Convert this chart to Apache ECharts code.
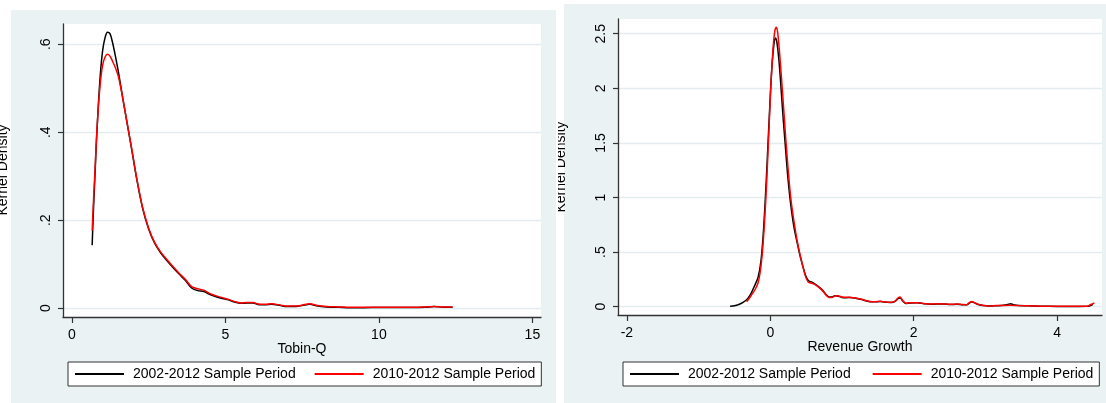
<!DOCTYPE html>
<html>
<head>
<meta charset="utf-8">
<script src="https://cdn.jsdelivr.net/npm/echarts@6/dist/echarts.min.js"></script>
<style>
  html, body { margin: 0; padding: 0; background: #fff; }
  #wrap { position: relative; width: 1106px; height: 403px; overflow: hidden; }
  .panel { position: absolute; background: #eaf2f3; }
  .chart { position: absolute; top: 0; height: 403px; overflow: hidden; }
</style>
</head>
<body>
<div id="wrap">
  <div class="panel" style="left:11px;top:10px;width:545px;height:393px"></div>
  <div class="panel" style="left:564px;top:4px;width:542px;height:399px"></div>
  <div id="tobin" class="chart" style="left:0;width:557px"></div>
  <div id="growth" class="chart" style="left:558px;width:548px"></div>
</div>
<script>
// Kernel density estimates, Tobin-Q
const tobinX = [0.66,0.70,0.75,0.80,0.86,0.93,1.00,1.08,1.16,1.24,1.32,1.42,1.52,1.65,1.80,1.95,2.10,2.30,2.50,2.70,2.90,3.10,3.30,3.50,3.70,3.90,4.10,4.30,4.50,4.70,4.90,5.10,5.30,5.50,5.70,5.90,6.10,6.30,6.50,6.80,7.00,7.30,7.50,7.75,8.00,8.30,8.70,9.20,9.80,10.40,11.00,11.50,11.80,12.10,12.40];
const tobinFull = [0.143,0.22,0.30,0.38,0.46,0.535,0.585,0.615,0.627,0.624,0.605,0.572,0.535,0.48,0.42,0.36,0.298,0.228,0.18,0.147,0.125,0.108,0.092,0.077,0.063,0.046,0.040,0.038,0.031,0.026,0.022,0.019,0.014,0.011,0.012,0.012,0.008,0.008,0.009,0.006,0.004,0.004,0.006,0.009,0.005,0.003,0.002,0.001,0.0015,0.0015,0.0015,0.002,0.004,0.002,0.002];
const tobinRecent = [0.176,0.24,0.31,0.385,0.455,0.515,0.552,0.571,0.577,0.573,0.562,0.546,0.525,0.48,0.42,0.362,0.30,0.23,0.182,0.149,0.127,0.110,0.094,0.079,0.065,0.049,0.044,0.041,0.033,0.028,0.024,0.020,0.015,0.012,0.013,0.013,0.009,0.009,0.010,0.007,0.005,0.005,0.007,0.010,0.006,0.004,0.003,0.002,0.002,0.002,0.002,0.003,0.004,0.003,0.003];

// Kernel density estimates, revenue growth
const growthXFull = [-0.56,-0.50,-0.44,-0.38,-0.32,-0.27,-0.22,-0.17,-0.13,-0.10,-0.07,-0.04,-0.01,0.02,0.05,0.07,0.09,0.12,0.15,0.18,0.21,0.24,0.27,0.30,0.33,0.37,0.41,0.45,0.49,0.53,0.58,0.63,0.68,0.73,0.78,0.82,0.86,0.90,0.94,1.00,1.06,1.12,1.19,1.26,1.33,1.39,1.46,1.53,1.58,1.63,1.69,1.74,1.78,1.81,1.85,1.89,1.95,2.05,2.14,2.23,2.32,2.42,2.51,2.60,2.68,2.74,2.78,2.81,2.85,2.90,2.97,3.05,3.15,3.25,3.31,3.35,3.39,3.46,3.60,3.72,3.85,4.00,4.15,4.30,4.42,4.47,4.50];
const growthFull = [0.004,0.008,0.02,0.04,0.07,0.12,0.19,0.27,0.42,0.65,0.98,1.38,1.80,2.17,2.40,2.46,2.43,2.26,2.00,1.72,1.47,1.22,1.02,0.86,0.73,0.60,0.48,0.38,0.29,0.24,0.225,0.205,0.18,0.15,0.11,0.09,0.09,0.10,0.098,0.085,0.083,0.084,0.078,0.068,0.055,0.046,0.045,0.047,0.043,0.04,0.038,0.048,0.075,0.08,0.05,0.03,0.035,0.036,0.028,0.022,0.025,0.024,0.02,0.022,0.018,0.017,0.035,0.045,0.035,0.02,0.01,0.006,0.009,0.013,0.02,0.028,0.018,0.01,0.008,0.006,0.004,0.002,0.002,0.002,0.003,0.012,0.022];
const growthXRecent = [-0.33,-0.29,-0.25,-0.21,-0.17,-0.14,-0.11,-0.08,-0.05,-0.02,0.01,0.04,0.065,0.085,0.105,0.13,0.16,0.19,0.22,0.25,0.28,0.31,0.34,0.37,0.41,0.45,0.49,0.53,0.58,0.63,0.68,0.73,0.78,0.82,0.86,0.90,0.94,1.00,1.06,1.12,1.19,1.26,1.33,1.39,1.46,1.53,1.58,1.63,1.69,1.74,1.78,1.81,1.85,1.89,1.95,2.05,2.14,2.23,2.32,2.42,2.51,2.60,2.68,2.74,2.78,2.81,2.85,2.90,2.97,3.05,3.15,3.25,3.35,3.46,3.60,3.72,3.85,4.00,4.15,4.30,4.42,4.47,4.52];
const growthRecent = [0.045,0.08,0.12,0.16,0.22,0.32,0.5,0.78,1.15,1.6,2.05,2.38,2.53,2.56,2.50,2.32,2.06,1.78,1.5,1.25,1.03,0.87,0.74,0.62,0.49,0.38,0.28,0.225,0.215,0.2,0.175,0.145,0.105,0.085,0.085,0.098,0.1,0.088,0.086,0.085,0.08,0.07,0.056,0.048,0.045,0.05,0.045,0.042,0.04,0.05,0.08,0.088,0.052,0.032,0.037,0.037,0.03,0.024,0.026,0.025,0.022,0.024,0.02,0.019,0.04,0.048,0.036,0.021,0.011,0.007,0.01,0.012,0.013,0.01,0.008,0.006,0.004,0.003,0.003,0.003,0.005,0.02,0.035];

// Axis ticks
const tobinTicksX = [0, 5, 10, 15];
const tobinTicksY = [0, 0.2, 0.4, 0.6];
const growthTicksX = [-2, 0, 2, 4];
const growthTicksY = [0, 0.5, 1, 1.5, 2, 2.5];

const seriesNames = ['2002-2012 Sample Period', '2010-2012 Sample Period'];
const FONT = '"Liberation Sans", Arial, Helvetica, sans-serif';

function zip(xs, ys) { return xs.map((x, i) => [x, ys[i]]); }
function stataNum(v) {
  if (v === 0) return '0';
  return String(+v.toFixed(2)).replace(/^0\./, '.').replace(/^-0\./, '-.');
}

function buildOption(cfg) {
  const axisLine = { show: true, onZero: false, lineStyle: { color: '#333', width: 1.3 } };
  return {
    animation: false,
    textStyle: { fontFamily: FONT },
    grid: {
      left: cfg.grid[0], top: cfg.grid[1], right: cfg.grid[2], bottom: cfg.grid[3],
      show: true, backgroundColor: '#fff', borderWidth: 0
    },
    xAxis: {
      type: 'value', min: cfg.xRange[0], max: cfg.xRange[1],
      axisLine: axisLine,
      axisTick: { show: true, customValues: cfg.xTicks, length: 6, lineStyle: { color: '#333', width: 1.2 } },
      axisLabel: { customValues: cfg.xTicks, fontSize: 14, color: '#000', margin: 11, fontFamily: FONT },
      splitLine: { show: false },
      name: cfg.xTitle, nameLocation: 'middle', nameGap: 25, nameMoveOverlap: false,
      nameTextStyle: { fontSize: 14, color: '#000', fontFamily: FONT }
    },
    yAxis: {
      type: 'value', min: cfg.yRange[0], max: cfg.yRange[1],
      axisLine: axisLine,
      axisTick: { show: true, customValues: cfg.yTicks, length: 5, lineStyle: { color: '#333', width: 1.2 } },
      axisLabel: { customValues: cfg.yTicks, rotate: 90, fontSize: 14, color: '#000', margin: 10,
                   fontFamily: FONT, formatter: stataNum },
      splitLine: { show: true, lineStyle: { color: '#e3ecee', width: 1.3 } }
    },
    legend: {
      left: cfg.legendLeft, top: 362, orient: 'horizontal',
      padding: [5, 6, 5, 6], borderColor: '#333', borderWidth: 1, backgroundColor: '#fff',
      itemWidth: 49, itemHeight: 14, itemGap: cfg.legendGap,
      itemStyle: { opacity: 0 },
      textStyle: { fontSize: 14, color: '#000', fontFamily: FONT, padding: [0, 0, 0, 4] },
      data: seriesNames
    },
    graphic: [{
      type: 'text', x: cfg.titleX, y: cfg.titleY, rotation: Math.PI / 2,
      style: { text: 'Kernel Density', font: '14px ' + FONT, fill: '#000',
               textAlign: 'center', textVerticalAlign: 'middle' }
    }],
    series: [
      { name: seriesNames[0], type: 'line', data: cfg.full, symbol: 'none', smooth: 0.3,
        lineStyle: { color: '#000', width: 1.5 }, itemStyle: { color: '#000' } },
      { name: seriesNames[1], type: 'line', data: cfg.recent, symbol: 'none', smooth: 0.3,
        lineStyle: { color: '#ff0000', width: 1.5 }, itemStyle: { color: '#ff0000' } }
    ]
  };
}

const tobinChart = echarts.init(document.getElementById('tobin'), null, { renderer: 'canvas' });
tobinChart.setOption(buildOption({
  grid: [63, 24, 16, 86],
  xRange: [-0.29, 15.28], yRange: [-0.02, 0.646],
  xTicks: tobinTicksX, yTicks: tobinTicksY,
  xTitle: 'Tobin-Q',
  legendLeft: 68, legendGap: 18,
  titleX: 3, titleY: 170,
  full: zip(tobinX, tobinFull),
  recent: zip(tobinX, tobinRecent)
}));

const growthChart = echarts.init(document.getElementById('growth'), null, { renderer: 'canvas' });
growthChart.setOption(buildOption({
  grid: [60, 19, 4, 88],
  xRange: [-2.124, 4.626], yRange: [-0.076, 2.635],
  xTicks: growthTicksX, yTicks: growthTicksY,
  xTitle: 'Revenue Growth',
  legendLeft: 65, legendGap: 21,
  titleX: 3, titleY: 167,
  full: zip(growthXFull, growthFull),
  recent: zip(growthXRecent, growthRecent)
}));
</script>
</body>
</html>
